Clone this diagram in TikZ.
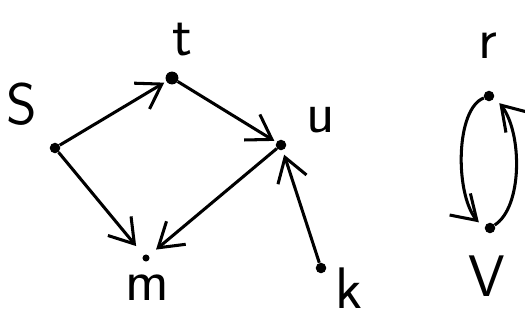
\documentclass[tikz,border=0pt]{standalone}
\usetikzlibrary{arrows.meta,bending}

\begin{document}
\begin{tikzpicture}[x=0.03cm,y=-0.03cm,
    vertex/.style={circle,fill,inner sep=0pt,minimum size=9pt},
    lbl/.style={font=\sffamily\fontsize{50}{50}\selectfont},
    edge/.style={-{Straight Barb[length=7mm,width=9mm,line width=2.6pt]},line width=2.6pt,shorten >=2pt}]
  \useasboundingbox (0,0) rectangle (525,323);
  % vertices
  \node[vertex] (s) at (55,148) {};
  \node[vertex,minimum size=11pt] (t) at (172,78) {};
  \node[vertex] (u) at (281,145) {};
  \node[vertex,minimum size=6pt] (m) at (146,258) {};
  \node[vertex] (k) at (321,268) {};
  \node[vertex] (r) at (489,96) {};
  \node[vertex] (v) at (490,228) {};
  % labels
  \node[lbl] (ls) at (22,104) {S};
  \node[lbl] (lt) at (182,40) {t};
  \node[lbl] (lu) at (321,120) {u};
  \node[lbl] (lm) at (147,288) {m};
  \node[lbl] (lk) at (349,288) {k};
  \node[lbl] (lr) at (488,46) {r};
  \node[lbl] (lv) at (487,276) {V};
  % edges
  \draw[edge] (s) -- (t);
  \draw[edge] (t) -- (u);
  \draw[edge,shorten >=10pt] (s) -- (m);
  \draw[edge,shorten >=8pt] (u) -- (m);
  \draw[edge,shorten >=4pt] (k) -- (u);
  \draw[edge,shorten >=6pt] (r) .. controls (452,110) and (455,215) .. (v);
  \draw[edge,shorten >=6pt] (v) .. controls (526,205) and (522,115) .. (r);
\end{tikzpicture}
\end{document}
